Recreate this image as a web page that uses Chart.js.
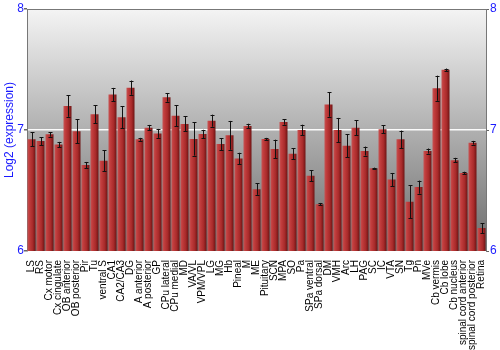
<!DOCTYPE html>
<html>
<head>
<meta charset="utf-8">
<script src="https://cdn.jsdelivr.net/npm/chart.js@4"></script>
<style>
    html, body { margin: 0; padding: 0; background: #ffffff; }
    #wrap { width: 500px; height: 350px; position: relative; }
</style>
</head>
<body>
<div id="wrap"><canvas id="exprChart"></canvas></div>
<script>
// regions
const regions = [
    'LS', 'RS', 'Cx motor', 'Cx cingulate', 'OB anterior', 'OB posterior', 'Pir', 'Tu',
    'ventral S', 'CA1', 'CA2/CA3', 'DG', 'A anterior', 'A posterior', 'GP', 'CPu lateral',
    'CPu medial', 'MD', 'VA/VL', 'VPM/VPL', 'LG', 'MG', 'Hb', 'Pineal', 'M', 'ME',
    'Pituitary', 'SCN', 'MPA', 'SO', 'Pa', 'SPa ventral', 'SPa dorsal', 'DM', 'VMH', 'Arc',
    'LH', 'PAG', 'SC', 'IC', 'VTA', 'SN', 'Tg', 'Pn', 'MVe', 'Cb vermis', 'Cb lobe',
    'Cb nucleus', 'spinal cord anterior', 'spinal cord posterior', 'Retina'
];

// log2 expression
const expression = [
    6.923, 6.909, 6.964, 6.880, 7.199, 6.989, 6.710, 7.130,
    6.746, 7.293, 7.105, 7.350, 6.923, 7.019, 6.972, 7.270,
    7.118, 7.050, 6.925, 6.967, 7.077, 6.884, 6.956, 6.765, 7.033, 6.511,
    6.925, 6.843, 7.066, 6.804, 7.000, 6.622, 6.387, 7.210, 7.000, 6.870,
    7.019, 6.826, 6.683, 7.006, 6.591, 6.923, 6.406, 6.528, 6.826, 7.345, 7.497,
    6.751, 6.644, 6.895, 6.190
];

// standard error
const stdErr = [
    0.057, 0.033, 0.019, 0.022, 0.090, 0.100, 0.026, 0.073,
    0.087, 0.055, 0.092, 0.059, 0.012, 0.023, 0.037, 0.036,
    0.086, 0.062, 0.137, 0.035, 0.050, 0.050, 0.119, 0.047, 0.019, 0.047,
    0.010, 0.077, 0.022, 0.044, 0.044, 0.047, 0.010, 0.100, 0.100, 0.097,
    0.062, 0.037, 0.006, 0.033, 0.054, 0.072, 0.137, 0.054, 0.021, 0.104, 0.011,
    0.019, 0.011, 0.015, 0.041
];

const yTicks = [6, 7, 8];

document.addEventListener('DOMContentLoaded', function () {
    const ctx = document.getElementById('exprChart').getContext('2d');

    // grey gradient behind the plot
    const backgroundPlugin = {
        id: 'plotBackground',
        beforeDraw(chart) {
            const a = chart.chartArea;
            const c = chart.ctx;
            const g = c.createLinearGradient(0, a.top, 0, a.bottom);
            g.addColorStop(0, '#f4f4f4');
            g.addColorStop(1, '#6c6c6c');
            c.save();
            c.fillStyle = g;
            c.fillRect(a.left, a.top, a.right - a.left, a.bottom - a.top);
            c.strokeStyle = '#777777';
            c.lineWidth = 1;
            c.beginPath();
            c.moveTo(a.left, a.top + 0.5);
            c.lineTo(a.right, a.top + 0.5);
            c.stroke();
            c.restore();
        }
    };

    // error bars
    const errorBarPlugin = {
        id: 'errorBars',
        afterDatasetsDraw(chart) {
            const c = chart.ctx;
            const yScale = chart.scales.y;
            const meta = chart.getDatasetMeta(0);
            c.save();
            c.strokeStyle = '#111111';
            c.lineWidth = 1;
            meta.data.forEach((bar, i) => {
                const x = Math.round(bar.x) + 0.5;
                const top = yScale.getPixelForValue(expression[i] + stdErr[i]);
                const bottom = yScale.getPixelForValue(expression[i] - stdErr[i]);
                c.beginPath();
                c.moveTo(x, top);
                c.lineTo(x, bottom);
                c.moveTo(x - 2, Math.round(top) + 0.5);
                c.lineTo(x + 2, Math.round(top) + 0.5);
                c.moveTo(x - 2, Math.round(bottom) + 0.5);
                c.lineTo(x + 2, Math.round(bottom) + 0.5);
                c.stroke();
            });
            c.restore();
        }
    };

    // red gradient across each bar
    function barFill(context) {
        const chart = context.chart;
        if (!chart.chartArea || !chart.scales.x) {
            return '#b03030';
        }
        const x = chart.scales.x.getPixelForValue(context.dataIndex);
        const g = chart.ctx.createLinearGradient(x - 4, 0, x + 4, 0);
        g.addColorStop(0, '#c65252');
        g.addColorStop(0.25, '#c03c3c');
        g.addColorStop(0.65, '#a82a2a');
        g.addColorStop(1, '#6e1414');
        return g;
    }

    const blue = '#1a1aff';

    new Chart(ctx, {
        type: 'bar',
        data: {
            labels: regions,
            datasets: [{
                data: expression,
                backgroundColor: barFill,
                borderWidth: 0,
                categoryPercentage: 1,
                barPercentage: 0.89
            }]
        },
        options: {
            responsive: true,
            maintainAspectRatio: false,
            animation: false,
            layout: { padding: { top: 9, left: 0, right: 0, bottom: 0 } },
            plugins: {
                legend: { display: false },
                tooltip: { enabled: false }
            },
            scales: {
                x: {
                    grid: { display: false },
                    border: { display: false },
                    ticks: {
                        autoSkip: false,
                        minRotation: 90,
                        maxRotation: 90,
                        padding: 1,
                        color: '#000000',
                        font: { family: "'Liberation Sans', Arial, sans-serif", size: 10 }
                    },
                    afterFit(scale) { scale.height = 99; }
                },
                y: {
                    position: 'left',
                    min: 6,
                    max: 8,
                    afterBuildTicks(scale) { scale.ticks = yTicks.map(v => ({ value: v })); },
                    grid: {
                        color: c => (c.tick && c.tick.value === 7) ? 'rgba(255,255,255,0.95)' : 'rgba(0,0,0,0)',
                        lineWidth: 1.5,
                        tickColor: '#666666',
                        tickLength: 3
                    },
                    border: { color: '#777777' },
                    ticks: {
                        padding: 0,
                        color: blue,
                        font: { family: "'Liberation Sans', Arial, sans-serif", size: 12 }
                    },
                    title: {
                        display: true,
                        text: 'Log2 (expression)',
                        color: blue,
                        padding: { top: 2, bottom: 0 },
                        font: { family: "'Liberation Sans', Arial, sans-serif", size: 12 }
                    },
                    afterFit(scale) { scale.width = 27; }
                },
                y2: {
                    position: 'right',
                    min: 6,
                    max: 8,
                    afterBuildTicks(scale) { scale.ticks = yTicks.map(v => ({ value: v })); },
                    grid: {
                        drawOnChartArea: false,
                        tickColor: '#666666',
                        tickLength: 3
                    },
                    border: { color: '#777777' },
                    ticks: {
                        padding: 1,
                        color: blue,
                        font: { family: "'Liberation Sans', Arial, sans-serif", size: 12 }
                    },
                    afterFit(scale) { scale.width = 14; }
                }
            }
        },
        plugins: [backgroundPlugin, errorBarPlugin]
    });
});
</script>
</body>
</html>
